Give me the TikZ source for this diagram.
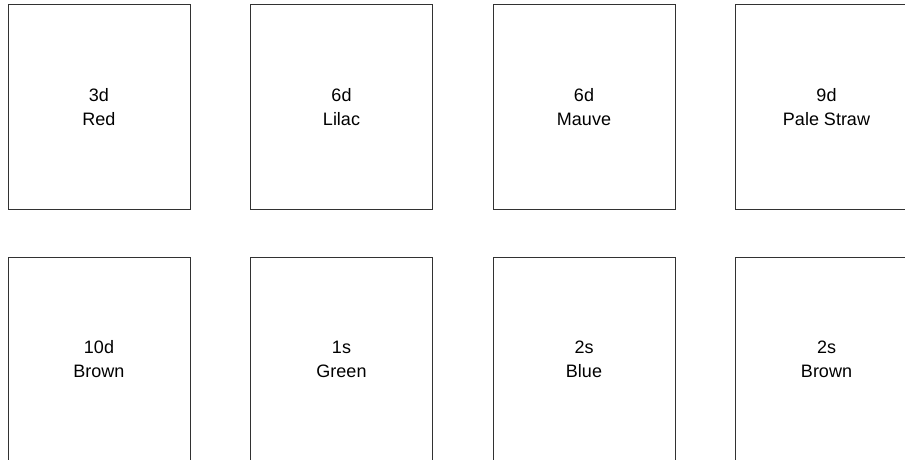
\documentclass[tikz,border=0pt]{standalone}
\usepackage{fontspec}
\setmainfont{Liberation Sans}
\usetikzlibrary{positioning}
\definecolor{EdgeGray}{RGB}{50, 50, 50}

\begin{document}
\begin{tikzpicture}[
    node distance=47.5pt and 59.5pt,
    stamp/.style={draw=EdgeGray, line width=1pt, rectangle, minimum width=182pt, minimum height=204pt, inner sep=0pt, align=center, font=\fontsize{18}{24}\selectfont}
  ]
    \useasboundingbox (0,0) rectangle (905pt,-460pt);
    \clip (0,0) rectangle (905pt,-460pt);
    % top row
    \node[stamp] (threepence) at (99pt,-107pt) {3d\\Red};
    \node[stamp, right=of threepence] (sixlilac) {6d\\Lilac};
    \node[stamp, right=of sixlilac] (sixmauve) {6d\\Mauve};
    \node[stamp, right=of sixmauve] (ninepence) {9d\\Pale Straw};
    % bottom row
    \node[stamp, below=of threepence] (tenpence) {10d\\Brown};
    \node[stamp, right=of tenpence] (oneshilling) {1s\\Green};
    \node[stamp, right=of oneshilling] (twoblue) {2s\\Blue};
    \node[stamp, right=of twoblue] (twobrown) {2s\\Brown};
  \end{tikzpicture}
\end{document}
